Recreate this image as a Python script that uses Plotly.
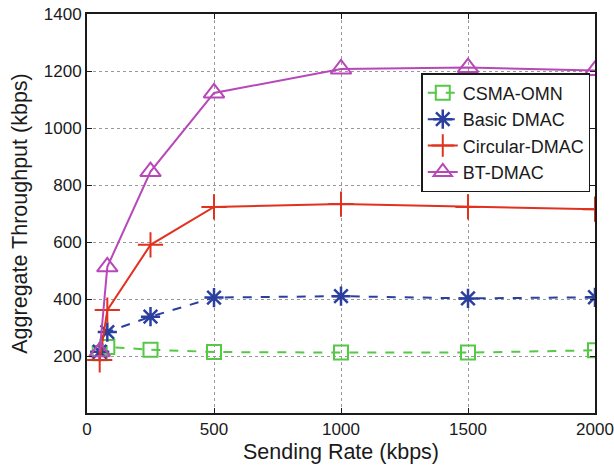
import plotly.graph_objects as go

rates = [50, 80, 250, 500, 1000, 1500, 2000]
csma_omn = [210, 232, 222, 214, 212, 212, 220]
basic_dmac = [215, 284, 338, 405, 410, 402, 406]
circular_dmac = [186, 361, 590, 723, 733, 723, 715]
bt_dmac = [215, 513, 847, 1123, 1207, 1212, 1202]

x_ticks = [0, 500, 1000, 1500, 2000]
y_ticks = [200, 400, 600, 800, 1000, 1200, 1400]

font = "Liberation Sans, Arial, sans-serif"

fig = go.Figure()
fig.add_trace(go.Scatter(x=rates, y=csma_omn, name="CSMA-OMN", mode="lines+markers",
                         line=dict(color="#55c845", width=2, dash="dash"),
                         marker=dict(symbol="square-open", size=14, color="#55c845", line=dict(width=2))))
fig.add_trace(go.Scatter(x=rates, y=basic_dmac, name="Basic DMAC", mode="lines+markers",
                         line=dict(color="#2b3f9e", width=2, dash="dash"),
                         marker=dict(symbol="asterisk-open", size=16, color="#2b3f9e", line=dict(width=2.5, color="#2b3f9e"))))
fig.add_trace(go.Scatter(x=rates, y=circular_dmac, name="Circular-DMAC", mode="lines+markers",
                         line=dict(color="#e0321e", width=2),
                         marker=dict(symbol="cross-thin-open", size=18, color="#e0321e", line=dict(width=2, color="#e0321e"))))
fig.add_trace(go.Scatter(x=rates, y=bt_dmac, name="BT-DMAC", mode="lines+markers",
                         line=dict(color="#b847b8", width=2),
                         marker=dict(symbol="triangle-up-open", size=18, color="#b847b8", line=dict(width=2))))

axis_common = dict(showline=True, linecolor="#1a1a1a", linewidth=2, mirror="ticks",
                   ticks="inside", ticklen=5, tickcolor="#1a1a1a",
                   showgrid=True, gridcolor="#999999", griddash="dot", gridwidth=1,
                   zeroline=False, automargin=False,
                   tickfont=dict(family=font, size=17, color="#1a1a1a"))

fig.update_xaxes(range=[0, 2000], tickvals=x_ticks, ticklabelstandoff=0,
                 title=dict(text="Sending Rate (kbps)", font=dict(family=font, size=21.5, color="#1a1a1a"), standoff=6),
                 **axis_common)
fig.update_yaxes(range=[0, 1400], tickvals=y_ticks, ticklabelstandoff=0,
                 title=dict(text="Aggregate Throughput (kbps)", font=dict(family=font, size=21.5, color="#1a1a1a"), standoff=10),
                 **axis_common)

fig.update_layout(
    width=614, height=467,
    margin=dict(l=87, r=19, t=14, b=54),
    plot_bgcolor="white", paper_bgcolor="white",
    showlegend=True,
    legend=dict(x=0.658, y=0.852, xanchor="left", yanchor="top",
                bgcolor="white", bordercolor="#1a1a1a", borderwidth=1.5,
                font=dict(family=font, size=18, color="#1a1a1a"),
                tracegroupgap=0, itemwidth=30),
)

fig.write_html("out.html", config={"displayModeBar": False},
               post_script="document.body.style.margin='0';document.body.style.overflow='hidden';")
